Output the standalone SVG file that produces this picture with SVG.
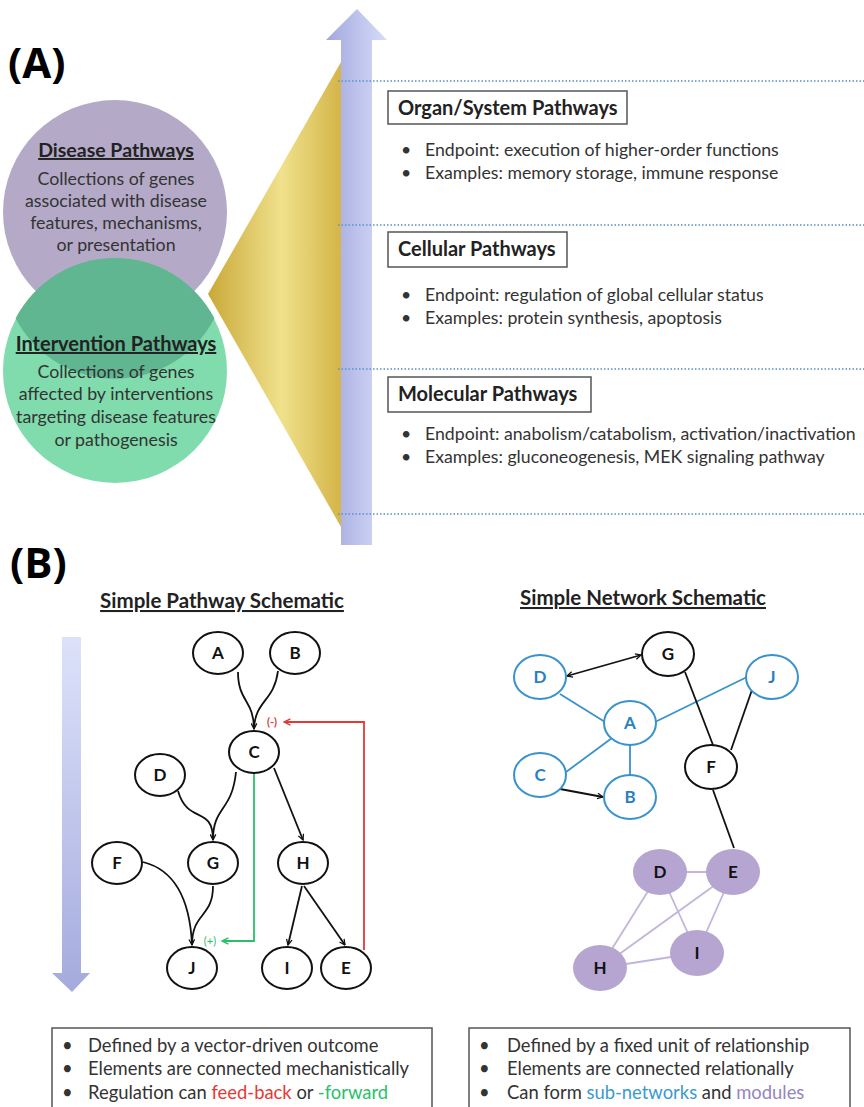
<svg xmlns="http://www.w3.org/2000/svg" width="864" height="1107" viewBox="0 0 864 1107">
<style>
.lbl{font-family:Lato,"Liberation Sans",sans-serif;font-weight:bold;fill:#222}
.t{font-family:Lato,"Liberation Sans",sans-serif;fill:#333;font-size:17.7px}
.ct{font-family:Lato,"Liberation Sans",sans-serif;fill:#333;font-size:17.8px;text-anchor:middle}
.hd{font-family:Lato,"Liberation Sans",sans-serif;font-weight:bold;fill:#222;text-decoration:underline}
.box{fill:#fff;stroke:#555;stroke-width:1.5}
.dot{stroke:#5b8fc8;stroke-width:1.5;stroke-dasharray:1.5 2}
.pn{fill:#fff;stroke:#111;stroke-width:2}
.bn{fill:#fff;stroke:#3a92cc;stroke-width:2}
.mn{fill:#b5a5d0;stroke:none}
.nl{font-family:Lato,"Liberation Sans",sans-serif;font-weight:bold;font-size:17px;text-anchor:middle;fill:#111}
.bl{fill:#2a7fbf}
.e{fill:none;stroke:#111;stroke-width:1.8}
.be{fill:none;stroke:#3a92cc;stroke-width:1.8}
.me{fill:none;stroke:#c2b4da;stroke-width:1.8}
.bt{font-family:Lato,"Liberation Sans",sans-serif;fill:#333;font-size:18.4px}
</style>
<defs>
<linearGradient id="upg" x1="0" y1="0" x2="1" y2="0">
<stop offset="0" stop-color="#a2a7dc"/><stop offset="1" stop-color="#d6ddf9"/>
</linearGradient>
<linearGradient id="dng" x1="0" y1="0" x2="0" y2="1">
<stop offset="0" stop-color="#dde2fa"/><stop offset="1" stop-color="#a4abdd"/>
</linearGradient>
<linearGradient id="gold" x1="0" y1="0" x2="1" y2="0">
<stop offset="0" stop-color="#c9a838"/><stop offset="0.55" stop-color="#f0e18c"/><stop offset="1" stop-color="#d4b548"/>
</linearGradient>
<marker id="ah" viewBox="0 0 10 10" refX="9" refY="5" markerWidth="7" markerHeight="7" orient="auto-start-reverse" markerUnits="userSpaceOnUse">
<path d="M1,1 L9,5 L1,9" fill="none" stroke="#111" stroke-width="1.8"/>
</marker>
<marker id="ahg" viewBox="0 0 10 10" refX="9" refY="5" markerWidth="8" markerHeight="8" orient="auto" markerUnits="userSpaceOnUse">
<path d="M1,1 L9,5 L1,9" fill="none" stroke="#2bbf6a" stroke-width="1.8"/>
</marker>
<marker id="ahr" viewBox="0 0 10 10" refX="9" refY="5" markerWidth="8" markerHeight="8" orient="auto" markerUnits="userSpaceOnUse">
<path d="M1,1 L9,5 L1,9" fill="none" stroke="#e53935" stroke-width="1.8"/>
</marker>
</defs>
<rect width="864" height="1107" fill="#fff"/>

<!-- Panel A -->
<text x="8" y="78" font-family="'Open Sans','Liberation Sans',sans-serif" font-weight="bold" font-size="42" fill="#000">(A)</text>
<polygon id="levels-wedge" points="208,294 341,62 341,527" fill="url(#gold)"/>
<g id="scale-arrow">
<polygon points="341,545 341,40 326,40 357,9 387,40 372,40 372,545" fill="url(#upg)"/>
</g>
<g id="dividers">
<line class="dot" x1="338" y1="81" x2="864" y2="81"/>
<line class="dot" x1="338" y1="225" x2="864" y2="225"/>
<line class="dot" x1="338" y1="369" x2="864" y2="369"/>
<line class="dot" x1="338" y1="514" x2="864" y2="514"/>
</g>
<g id="disease-circle">
<circle cx="115" cy="212" r="112" fill="#b4aac8"/>
</g>
<g id="intervention-circle">
<circle cx="115" cy="371" r="112" fill="#80dbad"/>
<path d="M 15.6,318.3 A 112 112 0 0 1 214.4,318.3 A 112 112 0 0 1 15.6,318.3 Z" fill="#5fb690"/>
</g>
<g id="disease-text">
<text class="hd" x="116" y="157" font-size="19.5" text-anchor="middle">Disease Pathways</text>
<text class="ct" x="116" y="185">Collections of genes</text>
<text class="ct" x="116" y="207">associated with disease</text>
<text class="ct" x="116" y="229">features, mechanisms,</text>
<text class="ct" x="116" y="251">or presentation</text>
</g>
<g id="intervention-text">
<text class="hd" x="116" y="351" font-size="20" text-anchor="middle">Intervention Pathways</text>
<text class="ct" x="116" y="378">Collections of genes</text>
<text class="ct" x="116" y="400">affected by interventions</text>
<text class="ct" x="116" y="423">targeting disease features</text>
<text class="ct" x="116" y="446">or pathogenesis</text>
</g>
<g id="organ">
<rect class="box" x="388" y="91" width="239" height="33"/>
<text class="lbl" x="398" y="115" font-size="20">Organ/System Pathways</text>
<text class="t" x="401" y="156">•</text>
<text class="t" x="425" y="156">Endpoint: execution of higher-order functions</text>
<text class="t" x="401" y="179">•</text>
<text class="t" x="425" y="179">Examples: memory storage, immune response</text>
</g>
<g id="cellular">
<rect class="box" x="388" y="232" width="179" height="35"/>
<text class="lbl" x="398" y="256" font-size="20">Cellular Pathways</text>
<text class="t" x="401" y="301">•</text>
<text class="t" x="425" y="301">Endpoint: regulation of global cellular status</text>
<text class="t" x="401" y="324">•</text>
<text class="t" x="425" y="324">Examples: protein synthesis, apoptosis</text>
</g>
<g id="molecular">
<rect class="box" x="388" y="377" width="203" height="35"/>
<text class="lbl" x="398" y="401" font-size="20">Molecular Pathways</text>
<text class="t" x="401" y="440">•</text>
<text class="t" x="425" y="440">Endpoint: anabolism/catabolism, activation/inactivation</text>
<text class="t" x="401" y="463">•</text>
<text class="t" x="425" y="463">Examples: gluconeogenesis, MEK signaling  pathway</text>
</g>

<!-- Panel B -->
<text x="10" y="578" font-family="'Open Sans','Liberation Sans',sans-serif" font-weight="bold" font-size="42" fill="#000">(B)</text>
<text class="hd" x="222" y="608" font-size="20.5" text-anchor="middle">Simple Pathway Schematic</text>
<text class="hd" x="643" y="605" font-size="20.5" text-anchor="middle">Simple Network Schematic</text>
<g id="time-arrow">
<polygon points="62,637 81,637 81,973 90,973 72,992 52,973 62,973" fill="url(#dng)"/>
</g>

<g id="pathway-connectors">
<path class="e" d="M238,672 C238,702 254,700 254,729" marker-end="url(#ah)"/>
<path class="e" d="M278,671 C274,702 255,700 254,729"/>
<path class="e" d="M236,772 C232,812 213,806 213,840" marker-end="url(#ah)"/>
<path class="e" d="M178,791 C188,825 213,805 213,840"/>
<path class="e" d="M274,768 L303,840" marker-end="url(#ah)"/>
<path class="e" d="M143,862 C175,870 190,900 192,945" marker-end="url(#ah)"/>
<path class="e" d="M213,886 C213,918 192,912 192,945"/>
<path class="e" d="M302,886 L288,945" marker-end="url(#ah)"/>
<path class="e" d="M304,886 L345,945" marker-end="url(#ah)"/>
<path d="M254,774 L254,941 L222,941" fill="none" stroke="#2bbf6a" stroke-width="1.8" marker-end="url(#ahg)"/>
<text x="210" y="945" font-family="Lato,'Liberation Sans',sans-serif" font-size="11" fill="#2bbf6a" text-anchor="middle">(+)</text>
<path d="M364,950 L364,722 L284,722" fill="none" stroke="#e53935" stroke-width="1.8" marker-end="url(#ahr)"/>
<text x="272" y="726" font-family="Lato,'Liberation Sans',sans-serif" font-size="11" font-weight="bold" fill="#e53935" text-anchor="middle">(-)</text>
</g>
<g id="pA"><ellipse class="pn" cx="218" cy="653" rx="25" ry="21"/><text class="nl" x="218" y="659">A</text></g>
<g id="pB"><ellipse class="pn" cx="295" cy="653" rx="25" ry="21"/><text class="nl" x="295" y="659">B</text></g>
<g id="pC"><ellipse class="pn" cx="254" cy="752" rx="25" ry="21"/><text class="nl" x="254" y="758">C</text></g>
<g id="pD"><ellipse class="pn" cx="160" cy="775" rx="25" ry="21"/><text class="nl" x="160" y="781">D</text></g>
<g id="pF"><ellipse class="pn" cx="117" cy="863" rx="25" ry="21"/><text class="nl" x="117" y="869">F</text></g>
<g id="pG"><ellipse class="pn" cx="213" cy="863" rx="25" ry="21"/><text class="nl" x="213" y="869">G</text></g>
<g id="pH"><ellipse class="pn" cx="303" cy="863" rx="25" ry="21"/><text class="nl" x="303" y="869">H</text></g>
<g id="pJ"><ellipse class="pn" cx="192" cy="968" rx="25" ry="21"/><text class="nl" x="192" y="974">J</text></g>
<g id="pI"><ellipse class="pn" cx="287" cy="968" rx="25" ry="21"/><text class="nl" x="287" y="974">I</text></g>
<g id="pE"><ellipse class="pn" cx="346" cy="968" rx="25" ry="21"/><text class="nl" x="346" y="974">E</text></g>

<g id="network-connectors">
<path class="e" d="M567,676 L641,655" marker-start="url(#ah)" marker-end="url(#ah)"/>
<path class="be" d="M560,694 L605,722"/>
<path class="be" d="M655,722 L747,677"/>
<path class="be" d="M612,738 L566,772"/>
<path class="be" d="M630,745 L630,775"/>
<path class="e" d="M560,789 L603,797" marker-end="url(#ah)"/>
<path class="e" d="M685,672 L713,745"/>
<path class="e" d="M753,687 L731,750"/>
<path class="e" d="M713,790 L734,848"/>
<path class="me" d="M660,872 L733,872"/>
<path class="me" d="M660,872 L600,968"/>
<path class="me" d="M660,872 L697,953"/>
<path class="me" d="M733,872 L600,968"/>
<path class="me" d="M733,872 L697,953"/>
<path class="me" d="M600,968 L697,953"/>
</g>
<g id="nG"><ellipse class="pn" cx="668" cy="654" rx="26" ry="22"/><text class="nl" x="668" y="660">G</text></g>
<g id="nD"><ellipse class="bn" cx="540" cy="677" rx="26" ry="22"/><text class="nl bl" x="540" y="683">D</text></g>
<g id="nJ"><ellipse class="bn" cx="772" cy="677" rx="26" ry="22"/><text class="nl bl" x="772" y="683">J</text></g>
<g id="nA"><ellipse class="bn" cx="630" cy="723" rx="26" ry="22"/><text class="nl bl" x="630" y="729">A</text></g>
<g id="nC"><ellipse class="bn" cx="540" cy="775" rx="26" ry="22"/><text class="nl bl" x="540" y="781">C</text></g>
<g id="nB"><ellipse class="bn" cx="630" cy="797" rx="26" ry="22"/><text class="nl bl" x="630" y="803">B</text></g>
<g id="nF"><ellipse class="pn" cx="711" cy="767" rx="26" ry="22"/><text class="nl" x="711" y="773">F</text></g>
<g id="mD"><ellipse class="mn" cx="660" cy="872" rx="27" ry="23"/><text class="nl" x="660" y="878">D</text></g>
<g id="mE"><ellipse class="mn" cx="733" cy="872" rx="27" ry="23"/><text class="nl" x="733" y="878">E</text></g>
<g id="mI"><ellipse class="mn" cx="697" cy="953" rx="27" ry="23"/><text class="nl" x="697" y="959">I</text></g>
<g id="mH"><ellipse class="mn" cx="600" cy="968" rx="27" ry="23"/><text class="nl" x="600" y="974">H</text></g>

<g id="pathway-notes">
<rect class="box" x="52" y="1028" width="380" height="90"/>
<text class="bt" x="62" y="1052">•</text><text class="bt" x="88" y="1052">Defined by a vector-driven outcome</text>
<text class="bt" x="62" y="1075">•</text><text class="bt" x="88" y="1075">Elements are connected mechanistically</text>
<text class="bt" x="62" y="1099">•</text><text class="bt" x="88" y="1099">Regulation can <tspan fill="#e53935">feed-back</tspan> or <tspan fill="#2bbf6a">-forward</tspan></text>
</g>
<g id="network-notes">
<rect class="box" x="469" y="1028" width="381" height="90"/>
<text class="bt" x="479" y="1052">•</text><text class="bt" x="507" y="1052">Defined by a fixed unit of relationship</text>
<text class="bt" x="479" y="1075">•</text><text class="bt" x="507" y="1075">Elements are connected relationally</text>
<text class="bt" x="479" y="1099">•</text><text class="bt" x="507" y="1099">Can form <tspan fill="#3a9ad0">sub-networks</tspan> and <tspan fill="#9585bd">modules</tspan></text>
</g>
</svg>
